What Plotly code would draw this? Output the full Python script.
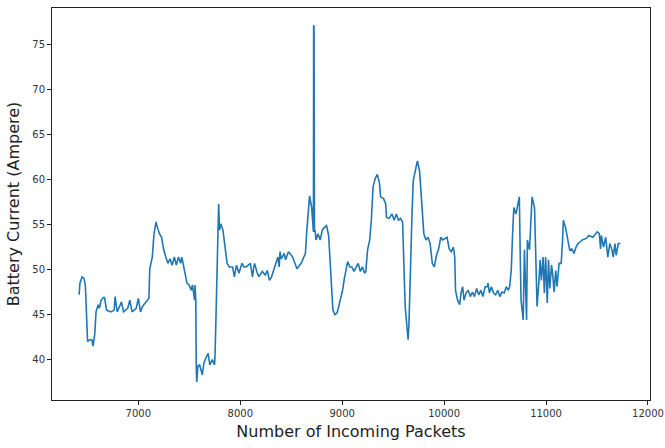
import plotly.graph_objects as go

packets = [
    6419, 6427, 6448, 6469, 6481, 6494, 6502, 6523, 6544, 6556, 6573, 6585, 6606, 6618, 6635, 6656,
    6668, 6689, 6730, 6763, 6772, 6793, 6834, 6855, 6896, 6917, 6938, 6979, 7000, 7021, 7041, 7075,
    7104, 7112, 7137, 7154, 7174, 7187, 7207, 7228, 7249, 7270, 7290, 7311, 7332, 7353, 7373, 7394,
    7415, 7427, 7444, 7461, 7477, 7498, 7519, 7531, 7539, 7552, 7556, 7564, 7568, 7573, 7585, 7602,
    7627, 7643, 7664, 7685, 7701, 7726, 7747, 7751, 7759, 7768, 7776, 7788, 7797, 7809, 7830, 7851,
    7871, 7892, 7925, 7942, 7963, 7987, 8017, 8037, 8058, 8099, 8120, 8133, 8141, 8162, 8182, 8216,
    8245, 8265, 8286, 8307, 8328, 8340, 8369, 8382, 8390, 8402, 8431, 8444, 8473, 8514, 8535, 8556,
    8597, 8618, 8639, 8651, 8668, 8680, 8701, 8714, 8718, 8720, 8724, 8728, 8734, 8743, 8763, 8784,
    8805, 8826, 8846, 8867, 8875, 8888, 8909, 8929, 8950, 8962, 8983, 9004, 9021, 9033, 9054, 9075,
    9095, 9116, 9137, 9157, 9178, 9199, 9220, 9232, 9249, 9270, 9286, 9303, 9323, 9344, 9365, 9377,
    9406, 9427, 9435, 9460, 9489, 9510, 9531, 9552, 9572, 9593, 9606, 9618, 9635, 9647, 9655, 9668,
    9684, 9697, 9718, 9738, 9759, 9780, 9801, 9821, 9842, 9863, 9884, 9904, 9925, 9946, 9967, 9987,
    10029, 10050, 10070, 10091, 10104, 10112, 10132, 10153, 10166, 10182, 10195, 10215, 10236, 10257, 10278, 10298,
    10319, 10340, 10361, 10381, 10402, 10423, 10431, 10444, 10464, 10485, 10506, 10527, 10547, 10568, 10589, 10610,
    10630, 10643, 10659, 10672, 10684, 10705, 10722, 10738, 10746, 10755, 10776, 10788, 10809, 10817, 10838, 10850,
    10863, 10887, 10900, 10912, 10929, 10942, 10954, 10971, 10983, 10996, 11012, 11024, 11037, 11054, 11066, 11079,
    11095, 11108, 11128, 11149, 11162, 11170, 11191, 11211, 11232, 11253, 11274, 11294, 11315, 11336, 11356, 11398,
    11419, 11460, 11502, 11523, 11535, 11543, 11564, 11585, 11606, 11626, 11647, 11659, 11676, 11688, 11709, 11730,
]

current = [
    47.2, 48.5, 49.2, 49.0, 48.1, 42.9, 42.0, 42.2, 42.2, 41.5, 42.9, 45.3, 46.1, 45.7, 46.6, 46.9,
    46.9, 45.5, 45.3, 45.5, 47.0, 45.3, 46.4, 45.3, 45.7, 46.6, 45.3, 45.7, 46.8, 45.3, 45.9, 46.4,
    46.8, 50.1, 51.4, 54.0, 55.3, 54.7, 54.0, 53.6, 52.2, 51.4, 50.7, 51.2, 50.5, 51.4, 50.5, 51.4,
    50.7, 51.4, 50.3, 49.2, 48.5, 48.3, 47.7, 48.3, 47.4, 46.6, 48.3, 46.6, 39.3, 37.5, 39.3, 39.4,
    38.3, 39.6, 40.2, 40.7, 39.4, 40.0, 39.4, 40.0, 43.3, 47.0, 51.4, 57.3, 54.4, 55.1, 54.4, 52.2,
    50.7, 50.3, 50.3, 49.2, 50.5, 49.6, 50.7, 50.3, 50.3, 50.7, 49.2, 50.3, 50.7, 49.8, 49.2, 49.8,
    49.4, 49.9, 48.8, 49.2, 49.9, 50.3, 51.4, 50.3, 52.0, 51.2, 51.8, 51.1, 52.0, 51.4, 50.7, 50.1,
    50.7, 51.2, 51.8, 54.0, 56.4, 58.2, 56.9, 54.4, 54.2, 77.1, 77.1, 54.2, 54.4, 53.3, 54.0, 53.3,
    54.4, 54.7, 54.9, 53.8, 52.2, 49.2, 45.5, 45.0, 45.2, 45.7, 46.8, 47.7, 49.0, 49.8, 50.9, 50.3,
    50.3, 49.8, 50.3, 50.7, 49.8, 50.3, 49.6, 49.8, 52.2, 53.3, 55.5, 59.2, 60.1, 60.6, 59.7, 58.1,
    57.9, 57.3, 55.8, 55.7, 56.2, 55.5, 56.2, 55.5, 55.7, 55.3, 50.3, 45.9, 43.7, 42.2, 43.9, 50.3,
    55.8, 59.9, 61.0, 62.1, 61.0, 57.3, 54.0, 53.3, 53.6, 52.9, 50.7, 50.3, 51.6, 52.3, 53.6, 53.3,
    53.6, 52.3, 52.0, 52.5, 51.4, 47.7, 46.6, 46.1, 47.4, 48.1, 46.6, 47.4, 47.7, 47.0, 47.5, 47.0,
    47.9, 47.2, 47.7, 47.0, 48.1, 48.1, 48.5, 47.4, 48.1, 47.4, 47.2, 47.7, 47.0, 47.5, 47.4, 48.1,
    47.7, 48.1, 50.0, 54.0, 56.9, 56.2, 57.1, 58.1, 52.2, 46.6, 44.4, 52.2, 44.4, 53.3, 52.2, 55.8,
    58.1, 56.9, 50.0, 45.9, 48.5, 51.1, 48.8, 51.4, 47.4, 51.4, 46.3, 51.1, 47.9, 50.5, 49.4, 47.5,
    49.9, 48.1, 50.7, 50.7, 53.3, 55.5, 54.7, 53.3, 52.2, 52.3, 51.8, 52.5, 52.9, 53.1, 53.3, 53.5,
    53.8, 53.6, 54.2, 54.0, 52.3, 53.8, 52.5, 53.6, 51.4, 52.9, 52.2, 51.4, 52.9, 51.6, 52.9, 52.9,
]

x_ticks = [7000, 8000, 9000, 10000, 11000, 12000]
y_ticks = [40, 45, 50, 55, 60, 65, 70, 75]

fig = go.Figure()
fig.add_trace(go.Scatter(
    x=packets, y=current, mode="lines",
    line=dict(color="#1f77b4", width=1.6),
    showlegend=False, hoverinfo="skip",
))

axis_common = dict(
    showgrid=False, zeroline=False, automargin=False,
    showline=True, linecolor="#222", linewidth=1, mirror=True,
    ticks="outside", ticklen=4, tickcolor="#222",
    tickfont=dict(family="DejaVu Sans", size=10, color="#333"),
)

fig.update_layout(
    width=665, height=448,
    margin=dict(l=52, r=15, t=8, b=48),
    paper_bgcolor="white", plot_bgcolor="white",
    xaxis=dict(
        range=[6153, 12020], tickvals=x_ticks, tickformat="d",
        title=dict(text="Number of Incoming Packets",
                   font=dict(family="DejaVu Sans", size=16, color="#222"), standoff=7),
        **axis_common,
    ),
    yaxis=dict(
        range=[35.5, 79.1], tickvals=y_ticks,
        title=dict(text="Battery Current (Ampere)",
                   font=dict(family="DejaVu Sans", size=16, color="#222"), standoff=8),
        **axis_common,
    ),
)

fig.write_html(
    "out.html",
    config={"displayModeBar": False, "staticPlot": True},
    post_script="document.body.style.margin='0';document.body.style.overflow='hidden';",
)
